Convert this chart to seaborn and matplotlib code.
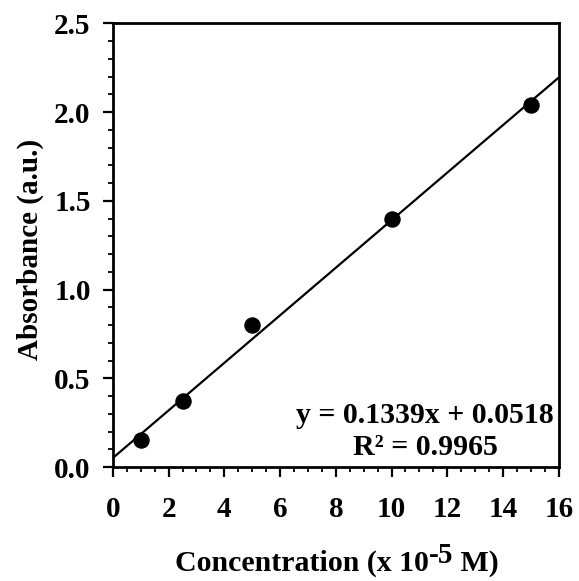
import numpy as np
import pandas as pd
import matplotlib
matplotlib.use("Agg")
import matplotlib.pyplot as plt
import seaborn as sns
from matplotlib.ticker import MultipleLocator, FormatStrFormatter

# measured data
conc = [1, 2.5, 5, 10, 15]
absorb = [0.15, 0.37, 0.80, 1.40, 2.04]

# linear fit as printed on the chart
slope = 0.1339
intercept = 0.0518
r2 = 0.9965
fit_x = [0, 16]

sns.set_theme(style="ticks")
plt.rcParams['font.family'] = ['Liberation Serif', 'DejaVu Serif']
plt.rcParams['font.weight'] = 'bold'
for key in ['text.color', 'axes.labelcolor', 'xtick.color', 'ytick.color', 'axes.edgecolor']:
    plt.rcParams[key] = 'black'

df = pd.DataFrame({'x': conc, 'y': absorb})
fit_df = pd.DataFrame({'x': fit_x, 'y': [slope * v + intercept for v in fit_x]})

fig = plt.figure(figsize=(5.79, 5.81), dpi=100)
ax = fig.add_axes([0.195, 0.196, 0.77, 0.764])

sns.lineplot(data=fit_df, x='x', y='y', ax=ax, color='black', lw=1.6)
sns.scatterplot(data=df, x='x', y='y', ax=ax, color='black', s=120,
                edgecolor='black', zorder=3)

ax.set_xlim(0, 16)
ax.set_ylim(0, 2.5)
ax.xaxis.set_major_locator(MultipleLocator(2))
ax.xaxis.set_minor_locator(MultipleLocator(0.5))
ax.yaxis.set_major_locator(MultipleLocator(0.5))
ax.yaxis.set_minor_locator(MultipleLocator(0.1))
ax.yaxis.set_major_formatter(FormatStrFormatter('%.1f'))

for s in ax.spines.values():
    s.set_linewidth(2.0)
    s.set_visible(True)
ax.tick_params(which='major', length=7, width=1.6, labelsize=21)
ax.tick_params(axis='y', which='major', pad=9)
ax.tick_params(axis='x', which='major', pad=14)
ax.tick_params(which='minor', length=3.5, width=1.3)
for lbl in ax.get_xticklabels() + ax.get_yticklabels():
    lbl.set_fontweight('bold')

# x label with a full-size raised exponent
ax.set_xlabel('')
base_y = 0.017
t1 = fig.text(175 / 579, base_y, 'Concentration (x 10', fontsize=21.5,
              fontweight='bold', ha='left', va='baseline')
t2 = ax.annotate('-5', xy=(1, base_y), xycoords=(t1, 'figure fraction'),
                 xytext=(0, 6), textcoords='offset points',
                 fontsize=21, fontweight='bold', ha='left', va='baseline',
                 annotation_clip=False)
t3 = ax.annotate(' M)', xy=(1, base_y), xycoords=(t2, 'figure fraction'),
                 fontsize=21.5, fontweight='bold', ha='left', va='baseline',
                 annotation_clip=False)

ax.set_ylabel('Absorbance (a.u.)', fontsize=21, fontweight='bold')
ax.yaxis.set_label_coords(-0.155, 0.49)

ax.text(0.70, 0.099, f'y = {slope}x + {intercept}', transform=ax.transAxes,
        ha='center', va='baseline', fontsize=21.5, fontweight='bold')
ax.text(0.70, 0.027, f'R² = {r2}', transform=ax.transAxes,
        ha='center', va='baseline', fontsize=21.5, fontweight='bold')

fig.savefig('out.png', dpi=100)
